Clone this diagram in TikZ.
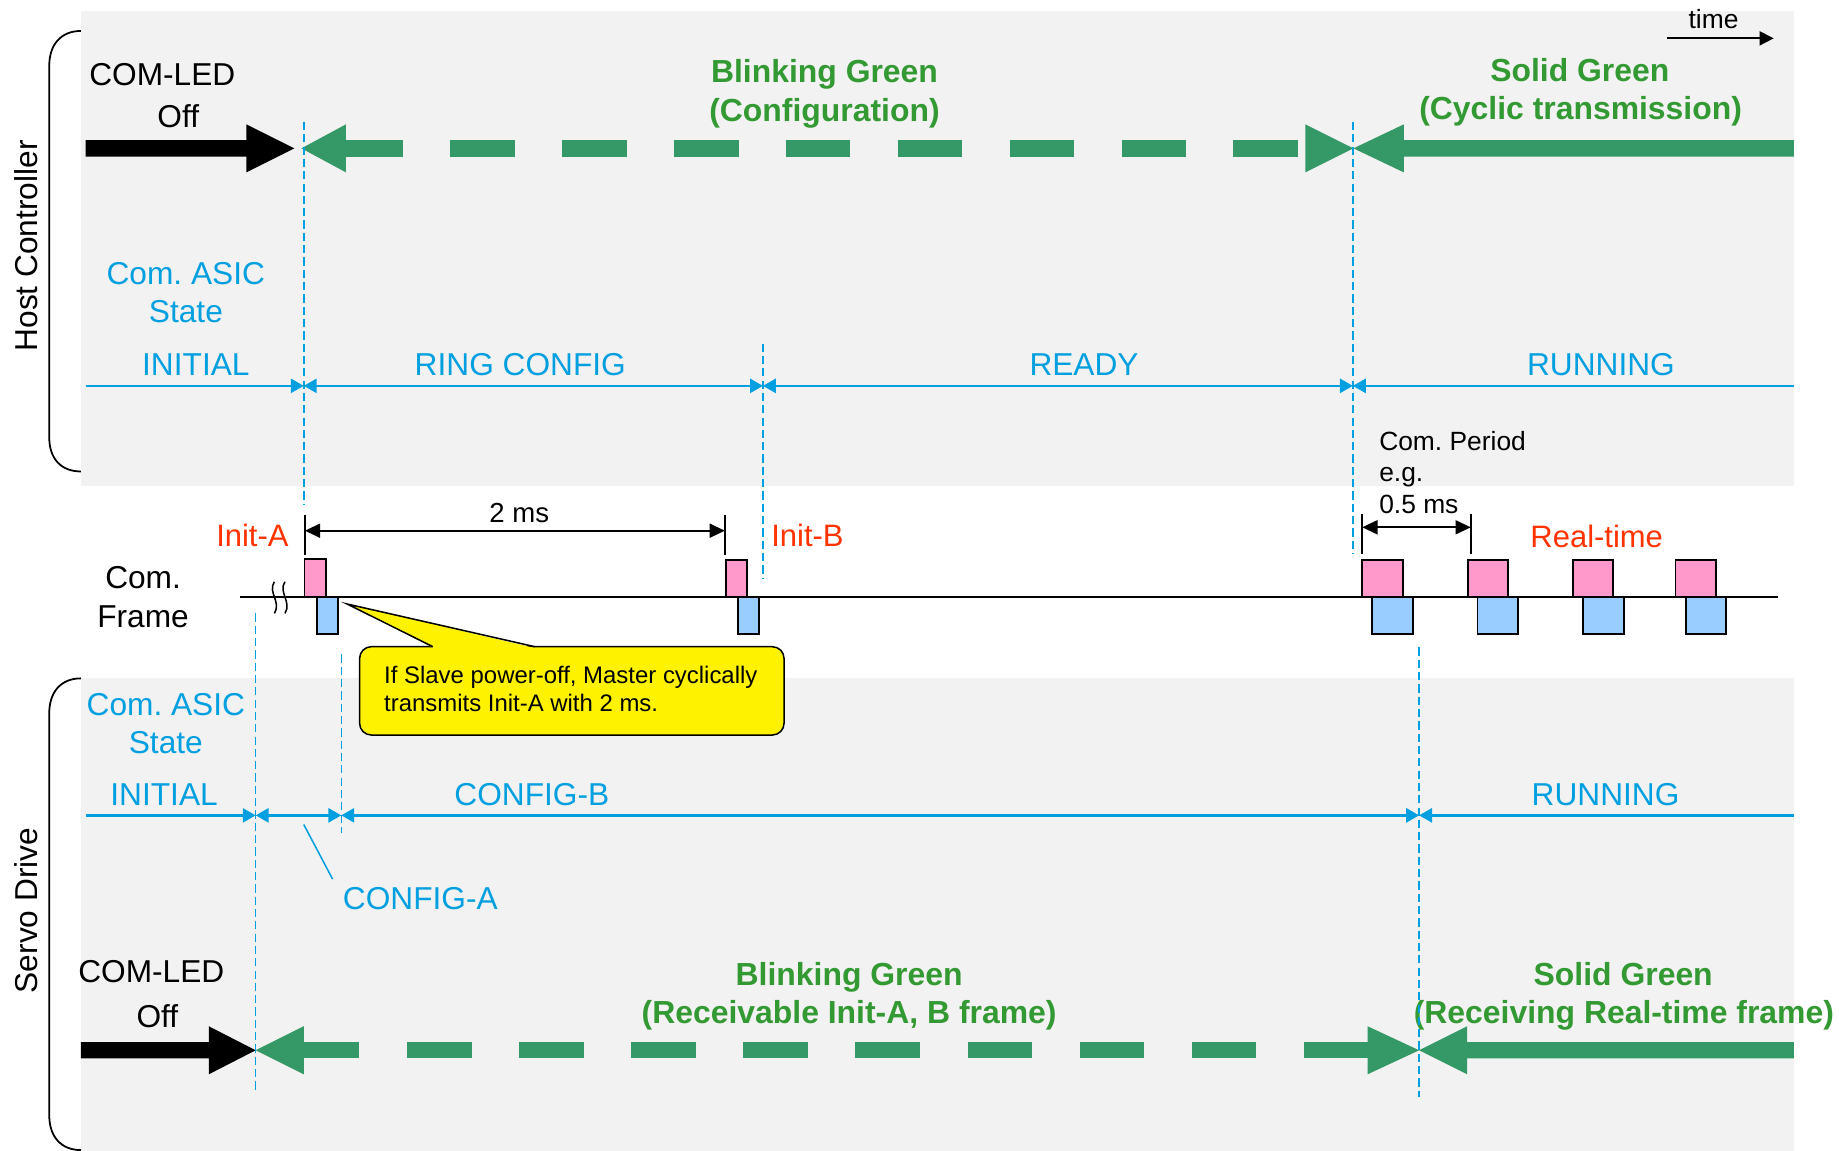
\documentclass[tikz,border=0pt]{standalone}
\usepackage{fontspec}
\setmainfont{Liberation Sans}
\usetikzlibrary{arrows.meta}
\definecolor{panel}{HTML}{F2F2F2}
\definecolor{cyanb}{RGB}{0,160,224}
\definecolor{gtext}{RGB}{51,153,51}
\definecolor{garrow}{RGB}{52,153,102}
\definecolor{redt}{RGB}{255,51,0}
\definecolor{pinkf}{HTML}{FF99CC}
\definecolor{bluef}{HTML}{99CCFF}
\begin{document}
\frenchspacing
\begin{tikzpicture}[x=1pt,y=-1pt,
  txt/.style={anchor=base, inner sep=0pt, font=\fontsize{27}{32}\selectfont},
  gtxt/.style={txt, text=gtext, font=\fontsize{27.2}{32}\selectfont\bfseries},
  btxt/.style={txt, text=cyanb},
  rtxt/.style={txt, text=redt, font=\fontsize{26.4}{32}\selectfont},
  stxt/.style={txt, font=\fontsize{22.5}{27}\selectfont},
  ctxt/.style={txt, anchor=base west, font=\fontsize{20.4}{24}\selectfont},
  vdash/.style={cyanb, line width=1.3pt, dash pattern=on 7pt off 3.5pt},
  state/.style={cyanb, line width=2pt, >={Triangle[length=11pt,width=12pt]}},
  dimline/.style={black, line width=1.5pt, >={Triangle[length=13pt,width=12pt]}},
  pulsep/.style={draw=black, line width=1.5pt, fill=pinkf},
  pulseb/.style={draw=black, line width=1.5pt, fill=bluef},
  brace/.style={black, line width=1.5pt}
]
\useasboundingbox (0,0) rectangle (1568,981);
\fill[white] (0,0) rectangle (1568,981);
% panels
\fill[panel] (69,9.5) rectangle (1529.5,414);
\fill[panel] (69,578) rectangle (1529.5,981);
% braces
\draw[brace] (69,26.4) .. controls (52,26.4) and (42,38) .. (42,56) -- (42,373) .. controls (42,391) and (52,402) .. (69,402);
\draw[brace] (69,578.4) .. controls (52,578.4) and (42,590) .. (42,608) -- (42,951) .. controls (42,969) and (52,980.6) .. (69,980.6);
\node[txt, rotate=90] (hostc) at (32.4,209.6) {Host Controller};
\node[txt, rotate=90] (servod) at (32.4,776.3) {Servo Drive};

% time arrow
\node[stxt] (timel) at (1461,24) {time};
\coordinate (tA) at (1421.7,32.7);
\coordinate (tB) at (1512.3,32.7);
\draw[black, line width=1.5pt, -{Triangle[length=12pt,width=12pt]}] (tA) -- (tB);

% ---------- Host controller LED row ----------
\fill[black] (73,119.5) -- (210,119.5) -- (210,106) -- (251,126.5) -- (210,147) -- (210,133.5) -- (73,133.5) -- cycle;
\fill[garrow] (257,126.5) -- (295,106) -- (295,147) -- cycle;
\draw[garrow, line width=14pt, dash pattern=on 55pt off 40.4pt, dash phase=6pt] (294.5,126.5) -- (1113,126.5);
\fill[garrow] (1113,106) -- (1154,126.5) -- (1113,147) -- cycle;
\fill[garrow] (1154,126.5) -- (1197,106) -- (1197,119.5) -- (1529.5,119.5) -- (1529.5,133.5) -- (1197,133.5) -- (1197,147) -- cycle;

\node[txt] (hcled) at (138.4,73.3) {COM-LED};
\node[txt] (hcoff) at (152,108.9) {Off};
\node[gtxt] (hcbg) at (703,70.5) {Blinking Green};
\node[gtxt] (hcbg2) at (703,103.8) {(Configuration)};
\node[gtxt] (hcsg) at (1347,69.6) {Solid Green};
\node[gtxt] (hcsg2) at (1347.7,102.3) {(Cyclic transmission)};

% ---------- Host controller ASIC state ----------
\node[btxt] (hcasic) at (158.4,242.2) {Com. ASIC};
\node[btxt] (hcstate) at (158.5,274.8) {State};
\node[btxt] (hcinit) at (167,319.8) {INITIAL};
\node[btxt] (hcring) at (443.6,319.8) {RING CONFIG};
\node[btxt] (hcready) at (924.3,319.8) {READY};
\node[btxt] (hcrun) at (1365,319.8) {RUNNING};
\coordinate (hs0) at (73,329);
\coordinate (hs1) at (259,329);
\coordinate (hs2) at (650.5,329);
\coordinate (hs3) at (1153.5,329);
\coordinate (hs4) at (1529.5,329);
\draw[state,->] (hs0) -- (hs1);
\draw[state,<->] (hs1) -- (hs2);
\draw[state,<->] (hs2) -- (hs3);
\draw[state,<-] (hs3) -- (hs4);

% ---------- Com frame ----------
\node[txt] (comf1) at (122,501.7) {Com.};
\node[txt] (comf2) at (122,534.7) {Frame};
\coordinate (fl0) at (205,509);
\coordinate (fl1) at (1516,509);
\draw[black, line width=1.5pt] (fl0) -- (fl1);
\draw[black, line width=1.3pt] (234,496) .. controls (228,505) and (240,513) .. (234,523);
\draw[black, line width=1.3pt] (243,496) .. controls (237,505) and (249,513) .. (243,523);

\draw[pulsep] (259.6,476.8) rectangle (277.7,509);
\draw[pulseb] (270,509) rectangle (288.5,540.6);
\draw[pulsep] (618.8,477.6) rectangle (637.2,509);
\draw[pulseb] (629.3,509) rectangle (647.3,540.6);
\draw[pulsep] (1161.5,477.5) rectangle (1196.1,509);
\draw[pulseb] (1169.7,509) rectangle (1204.9,540.6);
\draw[pulsep] (1251.5,477.5) rectangle (1285.5,509);
\draw[pulseb] (1259.7,509) rectangle (1294.3,540.6);
\draw[pulsep] (1341.5,477.5) rectangle (1375.5,509);
\draw[pulseb] (1349.8,509) rectangle (1384.6,540.6);
\draw[pulsep] (1428.6,477.5) rectangle (1463.2,509);
\draw[pulseb] (1437.3,509) rectangle (1471.9,540.6);

\node[rtxt] (inita) at (215.2,466.1) {Init-A};
\node[rtxt] (initb) at (688.5,466.1) {Init-B};
\node[rtxt] (realt) at (1361.4,467) {Real-time};

% 2 ms dimension
\node[txt, font=\fontsize{23.5}{28}\selectfont] (twoms) at (442.8,445.7) {2 ms};
\draw[dimline] (260,439) -- (260,473);
\draw[dimline] (618,439) -- (618,473);
\coordinate (d2a) at (260,452.5);
\coordinate (d2b) at (618,452.5);
\draw[dimline,<->] (d2a) -- (d2b);

% 0.5 ms dimension
\node[stxt, anchor=base west] (cper1) at (1175.8,384) {Com. Period};
\node[stxt, anchor=base west] (cper2) at (1175.8,410.8) {e.g.};
\node[stxt, anchor=base west] (cper3) at (1175.8,437.7) {0.5 ms};
\draw[dimline] (1161.5,438) -- (1161.5,472);
\draw[dimline] (1254,438) -- (1254,472);
\coordinate (d5a) at (1161.5,449.6);
\coordinate (d5b) at (1254,449.6);
\draw[dimline,<->] (d5a) -- (d5b);

% callout
\draw[black, line width=1.3pt, fill=yellow, rounded corners=10pt] (306.6,551.4) rectangle (668.5,626.7);
\fill[yellow] (369.5,552.4) -- (296,515) -- (455.5,552.4) -- cycle;
\coordinate (ctip) at (296,515);
\draw[black, line width=1.3pt, line join=miter] (369,551.4) -- (ctip) -- (456,551.4);
\node[ctxt] (call1) at (327.4,582.7) {If Slave power-off, Master cyclically};
\node[ctxt] (call2) at (327.4,606.8) {transmits Init-A with 2 ms.};

% ---------- Servo drive ASIC state ----------
\node[btxt] (sdasic) at (141.4,609.7) {Com. ASIC};
\node[btxt] (sdstate) at (141.4,642.3) {State};
\node[btxt] (sdinit) at (139.9,686.4) {INITIAL};
\node[btxt] (sdcfgb) at (453.5,686.4) {CONFIG-B};
\node[btxt] (sdrun) at (1369,686.4) {RUNNING};
\node[btxt] (sdcfga) at (358.4,775.3) {CONFIG-A};
\coordinate (ss0) at (73,695.2);
\coordinate (ss1) at (218,695.2);
\coordinate (ss2) at (291,695.2);
\coordinate (ss3) at (1210,695.2);
\coordinate (ss4) at (1529.5,695.2);
\draw[state,->] (ss0) -- (ss1);
\draw[state,<->] (ss1) -- (ss2);
\draw[state,<->] (ss2) -- (ss3);
\draw[state,<-] (ss3) -- (ss4);
\coordinate (cfa) at (259,703);
\draw[cyanb, line width=1.3pt] (cfa) -- (283.6,749.6);

% ---------- Servo drive LED row ----------
\fill[black] (69,888.5) -- (178,888.5) -- (178,875) -- (218,895.5) -- (178,916) -- (178,902.5) -- (69,902.5) -- cycle;
\fill[garrow] (218,895.5) -- (259,875) -- (259,916) -- cycle;
\draw[garrow, line width=14pt, dash pattern=on 55pt off 40.57pt, dash phase=7pt] (258.5,895.5) -- (1166.5,895.5);
\fill[garrow] (1166,875) -- (1210,895.5) -- (1166,916) -- cycle;
\fill[garrow] (1210,895.5) -- (1251,875) -- (1251,888.5) -- (1529.5,888.5) -- (1529.5,902.5) -- (1251,902.5) -- (1251,916) -- cycle;

\node[txt] (sdled) at (129,837.9) {COM-LED};
\node[txt] (sdoff) at (134.2,876.3) {Off};
\node[gtxt] (sdbg) at (724,840) {Blinking Green};
\node[gtxt] (sdbg2) at (724,872.5) {(Receivable Init-A, B frame)};
\node[gtxt] (sdsg) at (1384,839.9) {Solid Green};
\node[gtxt] (sdsg2) at (1384.6,872.5) {(Receiving Real-time frame)};

% ---------- vertical dashed markers ----------
\draw[vdash] (259,104) -- (259,430);
\draw[vdash] (650.5,293) -- (650.5,494);
\draw[vdash] (1153.5,104) -- (1153.5,472);
\draw[vdash] (218,523) -- (218,931);
\draw[vdash] (291,558) -- (291,710);
\draw[vdash] (1210,552) -- (1210,935);
\end{tikzpicture}
\end{document}
